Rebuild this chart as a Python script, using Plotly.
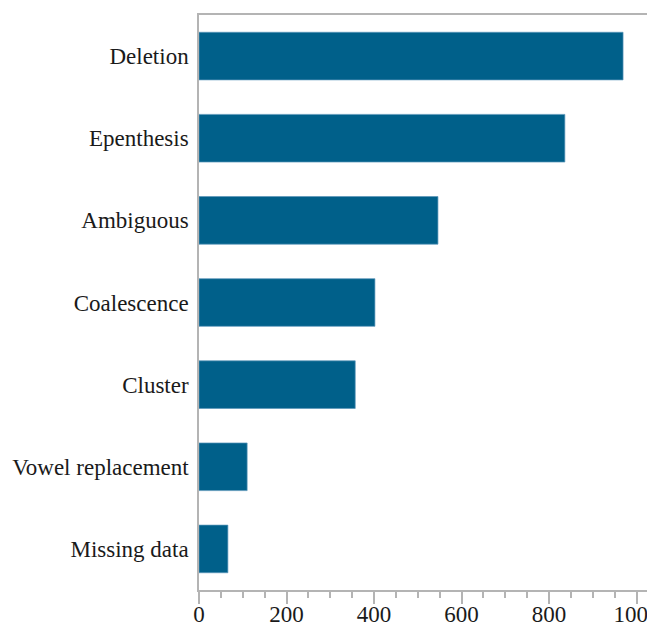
import plotly.graph_objects as go

# Values
categories = ['Deletion', 'Epenthesis', 'Ambiguous', 'Coalescence',
              'Cluster', 'Vowel replacement', 'Missing data']
counts = [969, 836, 546, 402, 357, 110, 66]
tick_vals = [0, 200, 400, 600, 800, 1000]

bar_color = '#00608a'
axis_color = '#b4b4b4'
font_family = 'Liberation Serif, Times New Roman, serif'

fig = go.Figure()

fig.add_trace(go.Bar(
    x=counts,
    y=categories,
    orientation='h',
    marker=dict(color=bar_color, line=dict(color='rgba(90,150,185,0.7)', width=1)),
    width=0.58,
    showlegend=False,
))

# the page adds an 8px body margin; the plot runs off the right edge like the original
fig.update_layout(
    template='none',
    width=660,
    height=620,
    margin=dict(l=191, r=13, t=7, b=38),
    paper_bgcolor='white',
    plot_bgcolor='white',
    font=dict(family=font_family, size=23, color='#1a1a1a'),
    xaxis=dict(
        range=[0, 1042],
        tickvals=tick_vals,
        ticks='outside',
        ticklen=12,
        tickcolor=axis_color,
        tickwidth=1.5,
        ticklabelstandoff=-9,
        showline=True,
        linecolor=axis_color,
        linewidth=1.5,
        mirror=True,
        showgrid=False,
        zeroline=False,
        automargin=False,
        minor=dict(dtick=50, ticks='outside', ticklen=6, tickcolor=axis_color, tickwidth=1.5),
    ),
    yaxis=dict(
        categoryorder='array',
        categoryarray=categories[::-1],
        showline=True,
        linecolor=axis_color,
        linewidth=1.5,
        showgrid=False,
        zeroline=False,
        ticks='',
        ticklabelstandoff=4,
        automargin=False,
    ),
)

fig.write_html("out.html")
